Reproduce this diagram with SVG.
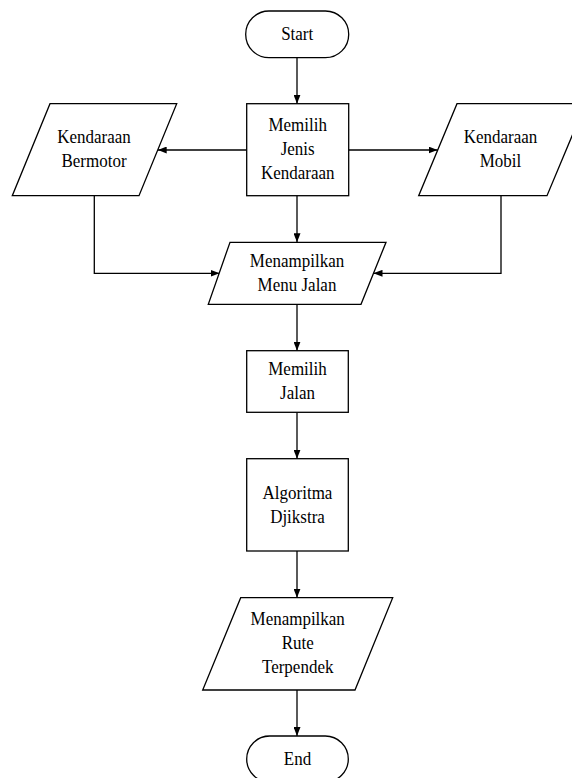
<svg xmlns="http://www.w3.org/2000/svg" width="572" height="778" viewBox="0 0 572 778">
<style>
.s{fill:#fff;stroke:#000;stroke-width:1.3}
.t{font-family:'Liberation Serif',serif;font-size:17px;fill:#000;text-anchor:middle}
.c{fill:none;stroke:#000;stroke-width:1.3}
</style>
<defs>
<marker id="ah" markerUnits="userSpaceOnUse" markerWidth="9" markerHeight="7" refX="9" refY="3.5" orient="auto">
<path d="M0,0 L9,3.5 L0,7 z" fill="#000"/>
</marker>
</defs>
<rect width="572" height="778" fill="#fff"/>
<g id="connectors">
<path class="c" d="M297,57.7 V103.7" marker-end="url(#ah)"/>
<path class="c" d="M246.7,150 H157.7" marker-end="url(#ah)"/>
<path class="c" d="M348.7,150 H437.5" marker-end="url(#ah)"/>
<path class="c" d="M297,195.7 V242.3" marker-end="url(#ah)"/>
<path class="c" d="M94.3,195.7 V273.3 H219.5" marker-end="url(#ah)"/>
<path class="c" d="M501,195.7 V273.3 H373.5" marker-end="url(#ah)"/>
<path class="c" d="M297,304.3 V350.7" marker-end="url(#ah)"/>
<path class="c" d="M297,412.3 V458.7" marker-end="url(#ah)"/>
<path class="c" d="M297,551 V597.7" marker-end="url(#ah)"/>
<path class="c" d="M297,690 V736" marker-end="url(#ah)"/>
</g>
<g id="start">
<rect class="s" x="245.7" y="11" width="103" height="46.7" rx="23.3" ry="23.3"/>
<text class="t" transform="translate(297.2 39.5) scale(1 1.12)">Start</text>
</g>
<g id="memilih-jenis">
<rect class="s" x="246.7" y="103.7" width="102" height="92"/>
<text class="t" transform="translate(297.7 131) scale(1 1.12)">Memilih</text>
<text class="t" transform="translate(297.7 154.5) scale(1 1.12)">Jenis</text>
<text class="t" transform="translate(297.7 179) scale(1 1.12)">Kendaraan</text>
</g>
<g id="kendaraan-bermotor">
<polygon class="s" points="50,103.7 176.7,103.7 139,195.7 12.3,195.7"/>
<text class="t" transform="translate(94 142.7) scale(1 1.12)">Kendaraan</text>
<text class="t" transform="translate(94 166.7) scale(1 1.12)">Bermotor</text>
</g>
<g id="kendaraan-mobil">
<polygon class="s" points="457,103.7 585.5,103.7 547,195.7 418.7,195.7"/>
<text class="t" transform="translate(500.5 142.7) scale(1 1.12)">Kendaraan</text>
<text class="t" transform="translate(500.5 166.7) scale(1 1.12)">Mobil</text>
</g>
<g id="menu-jalan">
<polygon class="s" points="230,242.3 386,242.3 361,304.3 208.3,304.3"/>
<text class="t" transform="translate(297 266.7) scale(1 1.12)">Menampilkan</text>
<text class="t" transform="translate(297 290.7) scale(1 1.12)">Menu Jalan</text>
</g>
<g id="memilih-jalan">
<rect class="s" x="246.7" y="350.7" width="101.6" height="61.6"/>
<text class="t" transform="translate(297.5 375) scale(1 1.12)">Memilih</text>
<text class="t" transform="translate(297.5 399) scale(1 1.12)">Jalan</text>
</g>
<g id="algoritma">
<rect class="s" x="246.7" y="458.7" width="101.6" height="92.3"/>
<text class="t" transform="translate(297.5 499) scale(1 1.12)">Algoritma</text>
<text class="t" transform="translate(297.5 522.5) scale(1 1.12)">Djikstra</text>
</g>
<g id="rute-terpendek">
<polygon class="s" points="240.7,597.7 392.7,597.7 355,690 202.7,690"/>
<text class="t" transform="translate(297.7 625) scale(1 1.12)">Menampilkan</text>
<text class="t" transform="translate(297.7 649) scale(1 1.12)">Rute</text>
<text class="t" transform="translate(297.7 673) scale(1 1.12)">Terpendek</text>
</g>
<g id="end">
<rect class="s" x="246.7" y="736" width="101.6" height="46" rx="23" ry="23"/>
<text class="t" transform="translate(297.5 765) scale(1 1.12)">End</text>
</g>
</svg>
